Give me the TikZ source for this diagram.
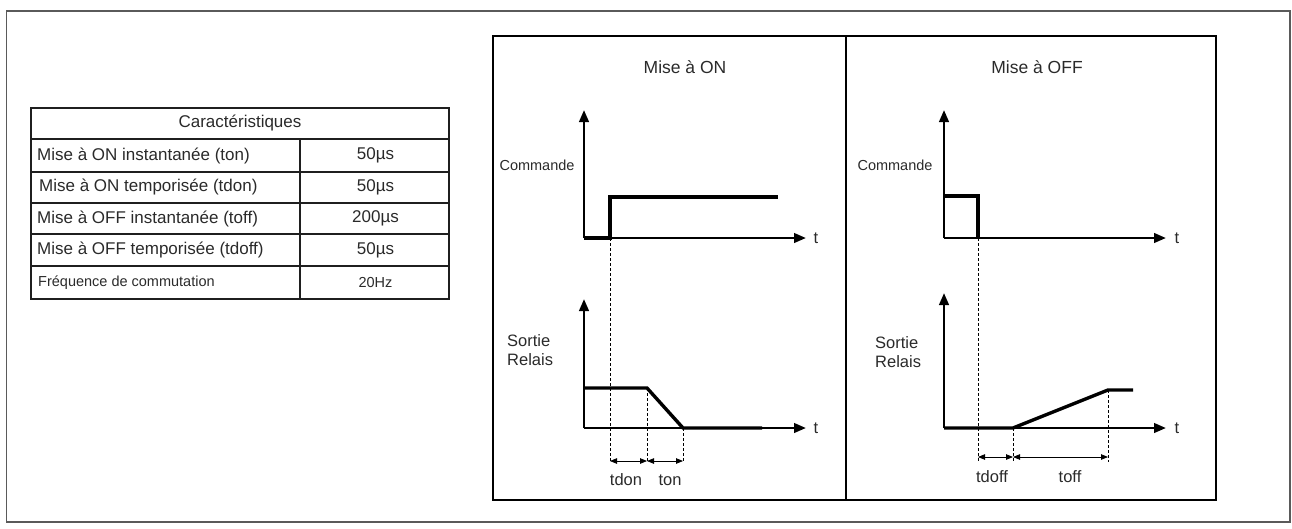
\documentclass[tikz,border=0pt]{standalone}
\usepackage{fontspec}
\setmainfont{Liberation Sans}
\usetikzlibrary{arrows.meta}
\definecolor{txt}{HTML}{2A2A2A}
\definecolor{frame}{HTML}{5A5A5A}
\tikzset{
  lbl/.style={inner sep=0pt, text=txt, font=\fontsize{16.5}{19}\selectfont},
  ttl/.style={inner sep=0pt, text=txt, font=\fontsize{17.5}{20}\selectfont},
  tbl/.style={inner sep=0pt, text=txt, font=\fontsize{17}{19}\selectfont},
  tblsmall/.style={inner sep=0pt, text=txt, font=\fontsize{14.5}{16}\selectfont},
  cmdlbl/.style={inner sep=0pt, text=txt, font=\fontsize{14.5}{16}\selectfont},
  tline/.style={line width=2pt, draw=black!88},
  axis/.style={line width=2.6pt, -{Triangle[length=12pt,width=9.5pt]}},
  signal/.style={line width=3.4pt},
  guide/.style={line width=0.8pt, dash pattern=on 3pt off 2pt},
  dim/.style={line width=0.8pt, {Triangle[length=7pt,width=5.5pt]}-{Triangle[length=7pt,width=5.5pt]}},
}
\begin{document}
\begin{tikzpicture}[x=1pt,y=-1pt]
\useasboundingbox (0,0) rectangle (1292,528);
% outer frame
\draw[frame, line width=1.6pt] (6.5,11) rectangle (1290,522);
% right panel
\draw[black, line width=1.5pt] (493,36) rectangle (1216,500);
\draw[black, line width=1.5pt] (846,36) -- (846,500);

% ---------- table ----------
\draw[tline] (31,108) rectangle (449,298.5);
\foreach \yy in {139,171.5,202.5,234,266}{\draw[tline] (31,\yy) -- (449,\yy);}
\draw[tline] (300,139) -- (300,298.5);
\node[tbl] (th) at (240,123.5) {Caractéristiques};
\node[tbl, anchor=west] (r1) at (37,155.5) {Mise à ON instantanée (ton)};
\node[tbl, anchor=west] (r2) at (39,187) {Mise à ON temporisée (tdon)};
\node[tbl, anchor=west] (r3) at (37,218.5) {Mise à OFF instantanée (toff)};
\node[tbl, anchor=west] (r4) at (37,250) {Mise à OFF temporisée (tdoff)};
\node[tblsmall, anchor=west] (r5) at (38,282.5) {Fréquence de commutation};
\node[tbl] (v1) at (375.5,155.5) {50µs};
\node[tbl] (v2) at (375.5,187) {50µs};
\node[tbl] (v3) at (375.5,218.5) {200µs};
\node[tbl] (v4) at (375.5,250) {50µs};
\node[tblsmall] (v5) at (375.5,282.5) {20Hz};

% ---------- Mise a ON ----------
\node[ttl] (ton-title) at (685,67) {Mise à ON};
\node[cmdlbl] (ton-cmd) at (537,165) {Commande};
\node[lbl, align=left, anchor=west] (ton-out) at (507,350) {Sortie\\Relais};
\coordinate (a1o) at (584,238);
\coordinate (a1t) at (584,110);
\coordinate (a1r) at (806,238);
\coordinate (a2o) at (584,428);
\coordinate (a2t) at (584,299);
\coordinate (a2r) at (806,428);
\node[lbl] (t1) at (816,238) {t};
\node[lbl] (t2) at (816,428) {t};
\draw[axis] (a1o) -- (a1t);
\draw[axis] (a1o) -- (a1r);
\draw[axis] (a2o) -- (a2t);
\draw[axis] (a2o) -- (a2r);
\coordinate (c1a) at (610,238);
\coordinate (c1b) at (610,197);
\coordinate (c1c) at (778,197);
\draw[signal, line join=miter] (a1o) -- (c1a) -- (c1b) -- (c1c);
\coordinate (s1a) at (584,388);
\coordinate (s1b) at (647,388);
\coordinate (s1c) at (683,428);
\coordinate (s1d) at (762,428);
\draw[signal, line join=miter] (s1a) -- (s1b) -- (s1c) -- (s1d);
\coordinate (g1) at (610,462);
\coordinate (g2) at (647,462);
\coordinate (g3) at (683,462);
\draw[guide] (c1a) -- (g1);
\draw[guide] (s1b) -- (g2);
\draw[guide] (s1c) -- (g3);
\coordinate (d1a) at (610,461);
\coordinate (d1b) at (647,461);
\coordinate (d1c) at (683,461);
\draw[dim] (d1a) -- (d1b);
\draw[dim] (d1b) -- (d1c);
\node[lbl] (tdon) at (626,480) {tdon};
\node[lbl] (tonl) at (670,480) {ton};

% ---------- Mise a OFF ----------
\node[ttl] (toff-title) at (1037,67) {Mise à OFF};
\node[cmdlbl] (toff-cmd) at (895,165) {Commande};
\node[lbl, align=left, anchor=west] (toff-out) at (875,352) {Sortie\\Relais};
\coordinate (b1o) at (944,238);
\coordinate (b1t) at (944,110);
\coordinate (b1r) at (1166,238);
\coordinate (b2o) at (944,428);
\coordinate (b2t) at (944,293);
\coordinate (b2r) at (1166,428);
\node[lbl] (t3) at (1177,238) {t};
\node[lbl] (t4) at (1177,428) {t};
\draw[axis] (b1o) -- (b1t);
\draw[axis] (b1o) -- (b1r);
\draw[axis] (b2o) -- (b2t);
\draw[axis] (b2o) -- (b2r);
\coordinate (c2a) at (944,196);
\coordinate (c2b) at (978,196);
\coordinate (c2c) at (978,238);
\draw[signal, line join=miter] (c2a) -- (c2b) -- (c2c);
\coordinate (s2b) at (1013,428);
\coordinate (s2c) at (1108,390);
\coordinate (s2d) at (1133,390);
\draw[signal, line join=miter] (b2o) -- (s2b) -- (s2c) -- (s2d);
\coordinate (h1) at (978,462);
\coordinate (h2) at (1013,462);
\coordinate (h3) at (1108,462);
\draw[guide] (c2c) -- (h1);
\draw[guide] (s2b) -- (h2);
\draw[guide] (s2c) -- (h3);
\coordinate (e1a) at (978,457);
\coordinate (e1b) at (1013,457);
\coordinate (e1c) at (1108,457);
\draw[dim] (e1a) -- (e1b);
\draw[dim] (e1b) -- (e1c);
\node[lbl] (tdoff) at (992,477) {tdoff};
\node[lbl] (toffl) at (1070,477) {toff};
\end{tikzpicture}
\end{document}
